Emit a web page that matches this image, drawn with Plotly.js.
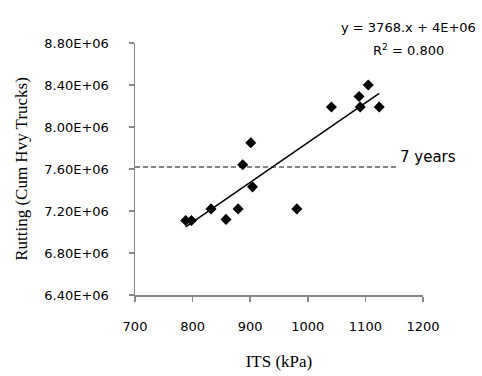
<!DOCTYPE html>
<html>
<head>
<meta charset="utf-8">
<script src="https://cdn.plot.ly/plotly-3.0.1.min.js"></script>
<style>html,body{margin:0;padding:0;background:#fff;}#chart{width:482px;height:376px;}</style>
</head>
<body>
<div id="chart"></div>
<script>
// Data
const itsKPa = [788, 798, 832, 858, 879, 887, 901, 904, 981, 1041, 1089, 1091, 1105, 1124];
const rutting = [7.11e6, 7.11e6, 7.22e6, 7.12e6, 7.22e6, 7.64e6, 7.85e6, 7.43e6, 7.22e6, 8.19e6, 8.29e6, 8.19e6, 8.40e6, 8.19e6];
const thresholdValue = 7.62e6;
const thresholdX = [700, 1157];
const thresholdLabel = "7 years";
const yTickVals = [6.4e6, 6.8e6, 7.2e6, 7.6e6, 8.0e6, 8.4e6, 8.8e6];
const yTickText = ["6.40E+06", "6.80E+06", "7.20E+06", "7.60E+06", "8.00E+06", "8.40E+06", "8.80E+06"];
const xTickVals = [700, 800, 900, 1000, 1100, 1200];
const equationText = "y = 3768.x + 4E+06";
const r2Text = "R<sup>2</sup> = 0.800";

// Linear least-squares trendline from the data
const n = itsKPa.length;
const mx = itsKPa.reduce((a, b) => a + b, 0) / n;
const my = rutting.reduce((a, b) => a + b, 0) / n;
let sxy = 0, sxx = 0;
for (let i = 0; i < n; i++) { sxy += (itsKPa[i] - mx) * (rutting[i] - my); sxx += (itsKPa[i] - mx) ** 2; }
const slope = sxy / sxx;
const intercept = my - slope * mx;
const trendX = [Math.min(...itsKPa), Math.max(...itsKPa)];
const trendY = trendX.map(x => slope * x + intercept);

const tickFont = {family: "DejaVu Sans", size: 13, color: "#000"};
const titleFont = {family: "Liberation Serif", size: 17, color: "#000"};

const traces = [
  {x: thresholdX, y: thresholdX.map(() => thresholdValue), type: "scatter", mode: "lines",
   line: {color: "#606060", width: 1.5, dash: "5px,3px"}, hoverinfo: "skip", showlegend: false},
  {x: trendX, y: trendY, type: "scatter", mode: "lines",
   line: {color: "#000", width: 1.5}, showlegend: false},
  {x: itsKPa, y: rutting, type: "scatter", mode: "markers",
   marker: {symbol: "diamond", size: 8.5, color: "#000"}, showlegend: false}
];

const layout = {
  width: 482, height: 376,
  margin: {l: 135, r: 59, t: 43, b: 81},
  paper_bgcolor: "#fff", plot_bgcolor: "#fff",
  showlegend: false,
  xaxis: {
    range: [700, 1200], tickvals: xTickVals, showgrid: false, zeroline: false,
    showline: true, linecolor: "#888", linewidth: 1.5,
    ticks: "outside", ticklen: 5, tickcolor: "#888", tickwidth: 1.5,
    tickfont: tickFont, ticklabelstandoff: 14,
    title: {text: "ITS (kPa)", font: titleFont, standoff: 22}
  },
  yaxis: {
    range: [6.4e6, 8.8e6], tickvals: yTickVals, ticktext: yTickText, showgrid: false, zeroline: false,
    showline: true, linecolor: "#888", linewidth: 1.5,
    ticks: "outside", ticklen: 5, tickcolor: "#888", tickwidth: 1.5,
    tickfont: tickFont, ticklabelstandoff: 17,
    title: {text: "Rutting (Cum Hvy Trucks)", font: titleFont, standoff: 12}
  },
  annotations: [
    {xref: "paper", yref: "paper", x: 0.948, y: 1.06, text: equationText, showarrow: false,
     xanchor: "center", yanchor: "middle", font: {family: "DejaVu Sans", size: 13, color: "#000"}},
    {xref: "paper", yref: "paper", x: 0.948, y: 0.972, text: r2Text, showarrow: false,
     xanchor: "center", yanchor: "middle", font: {family: "DejaVu Sans", size: 13, color: "#000"}},
    {xref: "x", yref: "y", x: thresholdX[1], y: thresholdValue, text: thresholdLabel, showarrow: false,
     xanchor: "left", yanchor: "middle", yshift: 10, xshift: 0,
     font: {family: "DejaVu Sans", size: 15, color: "#000"}}
  ]
};

Plotly.newPlot("chart", traces, layout, {staticPlot: true, displayModeBar: false});
</script>
</body>
</html>
